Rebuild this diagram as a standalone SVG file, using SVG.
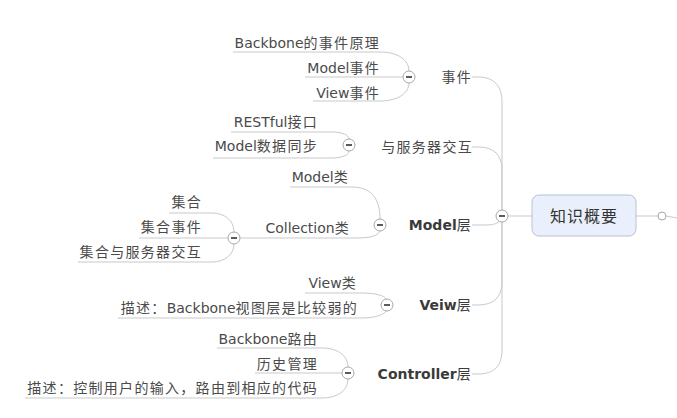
<svg xmlns="http://www.w3.org/2000/svg" width="677" height="418" viewBox="0 0 677 418">
<style>
.ln{fill:none;stroke:#c9c9c9;stroke-width:1}
.t{font-family:"DejaVu Sans","Noto Sans CJK SC",sans-serif;font-size:14px;fill:#4a4a4a;text-anchor:end}
.b{font-weight:bold;fill:#3a3a3a}
.c{letter-spacing:1.3px;font-weight:normal}
.ci{fill:#fff;stroke:#a8a8a8;stroke-width:1}
.mi{stroke:#333;stroke-width:1.6}
</style>
<rect width="677" height="418" fill="#fff"/>
<g id="connectors">
<path class="ln" d="M472,77 H478 C494,77 502,86 502,102 V210"/>
<path class="ln" d="M472,147 H478 C494,147 502,155 502,170 V210"/>
<path class="ln" d="M472,225 H486 C494,225 498,223 500,221"/>
<path class="ln" d="M472,305 H478 C494,305 502,297 502,282 V222"/>
<path class="ln" d="M472,374 H478 C494,374 502,366 502,350 V222"/>
<path class="ln" d="M508,216 H532"/>
<path class="ln" d="M636,216 H658"/>
<path class="ln" d="M666,216 L677,218"/>
<path class="ln" d="M233,52 H380 C398,52 409,60 409,71"/>
<path class="ln" d="M305,77 H403"/>
<path class="ln" d="M313,101 H380 C398,101 409,93 409,83"/>
<path class="ln" d="M231,132 H332 C342,132 349,135 349,139"/>
<path class="ln" d="M213,158 H332 C342,158 349,155 349,151"/>
<path class="ln" d="M290,187 H352 C370,187 380,197 380,219"/>
<path class="ln" d="M240,238 H355 C370,238 378,236 380,231"/>
<path class="ln" d="M169,213 H212 C224,213 234,220 234,232"/>
<path class="ln" d="M139,238 H228"/>
<path class="ln" d="M78,262 H212 C224,262 234,255 234,244"/>
<path class="ln" d="M305,293 H362 C376,293 385,296 386,299"/>
<path class="ln" d="M118,318 H362 C376,318 385,314 386,311"/>
<path class="ln" d="M217,348 H322 C338,348 348,356 348,367"/>
<path class="ln" d="M255,373 H342"/>
<path class="ln" d="M25,398 H322 C338,398 348,390 348,379"/>
</g>
<g id="toggles">
<circle class="ci" cx="502" cy="216" r="6"/><line class="mi" x1="499" y1="216" x2="505" y2="216"/>
<circle class="ci" cx="409" cy="77" r="6"/><line class="mi" x1="406" y1="77" x2="412" y2="77"/>
<circle class="ci" cx="349" cy="145" r="6"/><line class="mi" x1="346" y1="145" x2="352" y2="145"/>
<circle class="ci" cx="380" cy="225" r="6"/><line class="mi" x1="377" y1="225" x2="383" y2="225"/>
<circle class="ci" cx="234" cy="238" r="6"/><line class="mi" x1="231" y1="238" x2="237" y2="238"/>
<circle class="ci" cx="387" cy="305" r="6"/><line class="mi" x1="384" y1="305" x2="390" y2="305"/>
<circle class="ci" cx="348" cy="373" r="6"/><line class="mi" x1="345" y1="373" x2="351" y2="373"/>
<circle class="ci" cx="662" cy="216" r="4"/>
</g>
<g id="center">
<rect x="532" y="195" width="104" height="41" rx="7" fill="#e9f0fc" stroke="#b7c2d2" stroke-width="1"/>
<text x="584" y="222" style="font-family:'Noto Sans CJK SC',sans-serif;font-size:16px;fill:#333;text-anchor:middle;letter-spacing:1px">知识概要</text>
</g>
<g id="n-event"><text class="t" x="472" y="82"><tspan class="c">事件</tspan></text></g>
<g id="n-event-1"><text class="t" x="380" y="48">Backbone<tspan class="c">的事件原理</tspan></text></g>
<g id="n-event-2"><text class="t" x="380" y="73">Model<tspan class="c">事件</tspan></text></g>
<g id="n-event-3"><text class="t" x="380" y="98">View<tspan class="c">事件</tspan></text></g>
<g id="n-server"><text class="t" x="473" y="152"><tspan class="c">与服务器交互</tspan></text></g>
<g id="n-server-1"><text class="t" x="318" y="127">RESTful<tspan class="c">接口</tspan></text></g>
<g id="n-server-2"><text class="t" x="318" y="151">Model<tspan class="c">数据同步</tspan></text></g>
<g id="n-model"><text class="t b" x="472" y="230">Model<tspan class="c">层</tspan></text></g>
<g id="n-model-1"><text class="t" x="349" y="182">Model<tspan class="c">类</tspan></text></g>
<g id="n-collection"><text class="t" x="350" y="233">Collection<tspan class="c">类</tspan></text></g>
<g id="n-coll-1"><text class="t" x="202" y="207"><tspan class="c">集合</tspan></text></g>
<g id="n-coll-2"><text class="t" x="202" y="232"><tspan class="c">集合事件</tspan></text></g>
<g id="n-coll-3"><text class="t" x="202" y="257"><tspan class="c">集合与服务器交互</tspan></text></g>
<g id="n-view"><text class="t b" x="472" y="310">Veiw<tspan class="c">层</tspan></text></g>
<g id="n-view-1"><text class="t" x="357" y="288">View<tspan class="c">类</tspan></text></g>
<g id="n-view-2"><text class="t" x="358" y="313"><tspan class="c">描述：</tspan>Backbone<tspan class="c">视图层是比较弱的</tspan></text></g>
<g id="n-ctrl"><text class="t b" x="472" y="379">Controller<tspan class="c">层</tspan></text></g>
<g id="n-ctrl-1"><text class="t" x="318" y="344">Backbone<tspan class="c">路由</tspan></text></g>
<g id="n-ctrl-2"><text class="t" x="318" y="369"><tspan class="c">历史管理</tspan></text></g>
<g id="n-ctrl-3"><text class="t" x="318" y="393"><tspan class="c">描述：控制用户的输入，路由到相应的代码</tspan></text></g>
</svg>
